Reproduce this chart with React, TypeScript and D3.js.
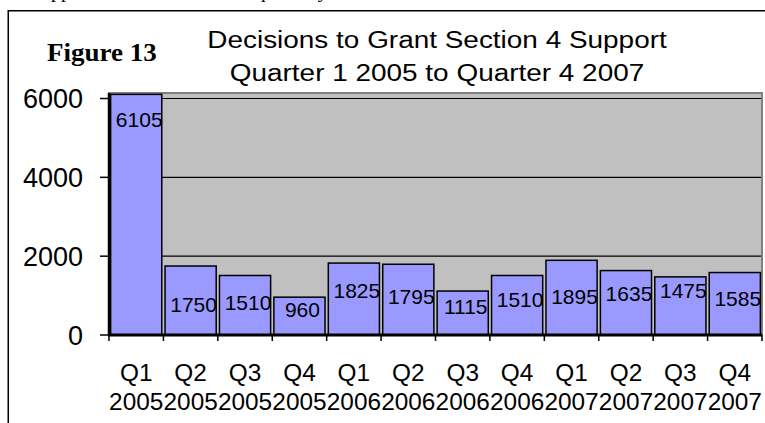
import React from "react";
import * as d3 from "d3";

const quarters = ["Q1", "Q2", "Q3", "Q4", "Q1", "Q2", "Q3", "Q4", "Q1", "Q2", "Q3", "Q4"];
const years = ["2005", "2005", "2005", "2005", "2006", "2006", "2006", "2006", "2007", "2007", "2007", "2007"];
const decisions = [6105, 1750, 1510, 960, 1825, 1795, 1115, 1510, 1895, 1635, 1475, 1585];
const yTicks = [0, 2000, 4000, 6000];
// label baselines (pixel layout, manually placed labels in the original)
const labelBaselines = [127, 312, 310, 317, 298, 304, 314, 307, 304, 301, 298, 306];

const W = 765;
const H = 423;
const plotLeft = 109;
const plotRight = 762;
const plotTop = 93;
const plotBottom = 335;

const sans = "'Liberation Sans', Arial, sans-serif";
const serif = "'Liberation Serif', 'Times New Roman', serif";

function SText(props: { x: number; y: number; sx?: number; size: number; anchor?: string; family?: string; weight?: string; dy?: string; children: React.ReactNode }) {
  const { x, y, sx = 1, size, anchor = "start", family = sans, weight = "normal", dy, children } = props;
  return (
    <text transform={`translate(${x},${y}) scale(${sx},1)`} dy={dy} textAnchor={anchor} fontFamily={family} fontWeight={weight} fontSize={size} fill="#000">
      {children}
    </text>
  );
}

export default function App() {
  const idx = decisions.map((_, i) => String(i));
  const x = d3.scaleBand<string>().domain(idx).range([plotLeft, plotRight]).paddingInner(0.06).paddingOuter(0.03);
  const xb = d3.scaleBand<string>().domain(idx).range([plotLeft, plotRight]);
  const y = d3.scaleLinear().domain([0, 6140]).range([plotBottom, plotTop]);

  return (
    <svg width={W} height={H} style={{ position: "absolute", left: 0, top: 0, background: "#fff" }}>
      <text x={30} y={-3} fontFamily={serif} fontSize={20} fill="#000">
        Support decisions are made quarterly
      </text>
      {/* outer frame */}
      <line x1={8} x2={W + 2} y1={10.75} y2={10.75} stroke="#000" strokeWidth={1.5} />
      <line x1={8.25} x2={8.25} y1={10} y2={H + 2} stroke="#000" strokeWidth={1.5} />

      <SText x={47} y={61} family={serif} weight="bold" size={26} sx={1.04}>
        Figure 13
      </SText>
      <SText x={437} y={48} anchor="middle" size={24.5} sx={1.14}>
        Decisions to Grant Section 4 Support
      </SText>
      <SText x={437} y={81} anchor="middle" size={24.5} sx={1.14}>
        Quarter 1 2005 to Quarter 4 2007
      </SText>

      {/* plot area */}
      <rect x={plotLeft} y={plotTop} width={plotRight - plotLeft} height={plotBottom - plotTop} fill="#C0C0C0" stroke="#808080" strokeWidth={2} />
      {yTicks.filter((t) => t > 0).map((t) => (
        <line key={t} x1={plotLeft} x2={plotRight - 1} y1={y(t)} y2={y(t)} stroke="#000" strokeWidth={1.2} />
      ))}

      {/* bars */}
      {decisions.map((v, i) => (
        <rect key={i} x={x(String(i))!} y={y(v)} width={x.bandwidth()} height={plotBottom - y(v)} fill="#9999FF" stroke="#000" strokeWidth={1.5} />
      ))}
      {decisions.map((v, i) => (
        <SText key={i} x={x(String(i))! + x.bandwidth() / 2 + 3} y={labelBaselines[i]} anchor="middle" size={21}>
          {v}
        </SText>
      ))}

      {/* y axis */}
      <line x1={plotLeft} x2={plotLeft} y1={plotTop} y2={plotBottom} stroke="#000" strokeWidth={2.5} />
      {yTicks.map((t) => (
        <g key={t}>
          <line x1={100} x2={plotLeft} y1={y(t)} y2={y(t)} stroke="#000" strokeWidth={1.5} />
          <SText x={83} y={y(t)} dy="0.36em" anchor="end" size={27}>
            {t}
          </SText>
        </g>
      ))}

      {/* x axis */}
      <line x1={plotLeft - 1} x2={plotRight} y1={plotBottom} y2={plotBottom} stroke="#000" strokeWidth={3} />
      {[...idx.map((k) => xb(k)!), plotRight].map((px, i) => (
        <line key={i} x1={px} x2={px} y1={plotBottom} y2={plotBottom + 6} stroke="#000" strokeWidth={1.5} />
      ))}
      {decisions.map((_, i) => {
        const cx = xb(String(i))! + xb.bandwidth() / 2;
        return (
          <g key={i}>
            <SText x={cx} y={381} anchor="middle" size={23} sx={1.06}>
              {quarters[i]}
            </SText>
            <SText x={cx} y={410} anchor="middle" size={23} sx={1.06}>
              {years[i]}
            </SText>
          </g>
        );
      })}
    </svg>
  );
}
